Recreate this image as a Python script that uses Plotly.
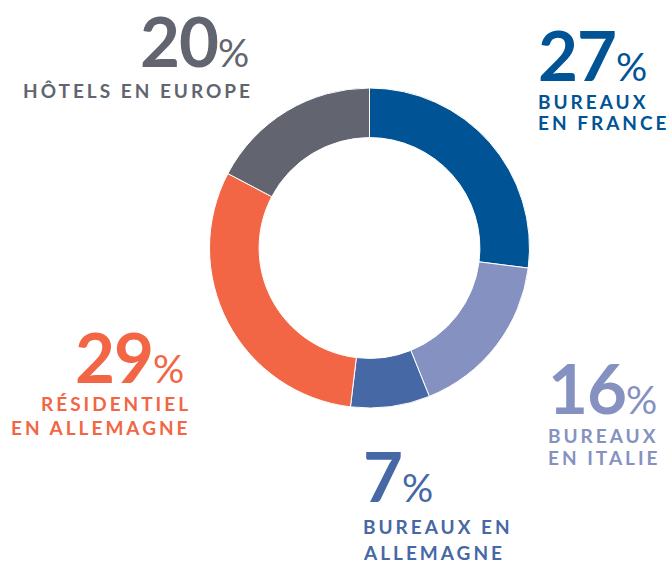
import plotly.graph_objects as go

# ---- data ----
categories = ["Bureaux en France", "Bureaux en Italie", "Bureaux en Allemagne",
              "Résidentiel en Allemagne", "Hôtels en Europe"]
pct_labels = [27, 16, 7, 29, 20]            # percentages printed next to the ring
arc_share = [27.0, 16.9, 8.0, 30.8, 17.3]   # slice sizes as drawn in the ring
label_lines = [["BUREAUX", "EN FRANCE"],
               ["BUREAUX", "EN ITALIE"],
               ["BUREAUX EN", "ALLEMAGNE"],
               ["RÉSIDENTIEL", "EN ALLEMAGNE"],
               ["HÔTELS EN EUROPE"]]
colors = ["#005395", "#8592c1", "#4668a5", "#f26645", "#62656f"]

W, H = 671, 563
FONT = "Lato"
NUM_SIZE = 69
PCT_SIZE = 39
LAB_SIZE = 19
SPACING = 3.0

# layout of the callouts (pixel positions): anchor x, side, number baseline, label baselines
callouts = [
    dict(x=537, side="left", nb=81, lb=[109, 130]),
    dict(x=547, side="left", nb=414, lb=[443, 465]),
    dict(x=362, side="left", nb=502, lb=[534, 560]),
    dict(x=192, side="right", nb=383, lb=[411, 435], nx=185),
    dict(x=254, side="right", nb=67, lb=[98], nx=250),
]

def px(x):
    return x / W

def py(y):
    return 1 - y / H

fig = go.Figure(go.Pie(
    labels=categories,
    values=arc_share,
    hole=0.69,
    sort=False,
    direction="clockwise",
    rotation=0,
    marker=dict(colors=colors, line=dict(color="white", width=1)),
    textinfo="none",
    hoverinfo="label+percent",
    showlegend=False,
    domain=dict(x=[px(369.5 - 160), px(369.5 + 160)], y=[py(408), py(88)]),
))

annotations = []
for i, c in enumerate(callouts):
    col = colors[i]
    nx = c.get("nx", c["x"])
    num_text = (f"<span style='letter-spacing:-1px'><b>{pct_labels[i]}</b></span>"
                f"<span style='font-size:{PCT_SIZE}px'>%</span>")
    annotations.append(dict(
        x=px(nx), y=py(c["nb"] - 0.387 * NUM_SIZE), xref="paper", yref="paper",
        text=num_text, showarrow=False, xanchor=c["side"], yanchor="middle",
        font=dict(family=FONT, size=NUM_SIZE, color=col), borderpad=0,
    ))
    for j, line in enumerate(label_lines[i]):
        annotations.append(dict(
            x=px(c["x"]), y=py(c["lb"][j] - 0.387 * LAB_SIZE), xref="paper", yref="paper",
            text=f"<span style='letter-spacing:{SPACING}px'><b>{line}</b></span>",
            showarrow=False, xanchor=c["side"], yanchor="middle",
            align=c["side"], borderpad=0,
            font=dict(family=FONT, size=LAB_SIZE, color=col),
        ))

fig.update_layout(
    width=W, height=H,
    margin=dict(l=0, r=0, t=0, b=0),
    paper_bgcolor="white", plot_bgcolor="white",
    annotations=annotations,
)

fig.write_html("out.html", config={"displayModeBar": False},
               post_script="document.body.style.margin='0';document.body.style.overflow='hidden';")
